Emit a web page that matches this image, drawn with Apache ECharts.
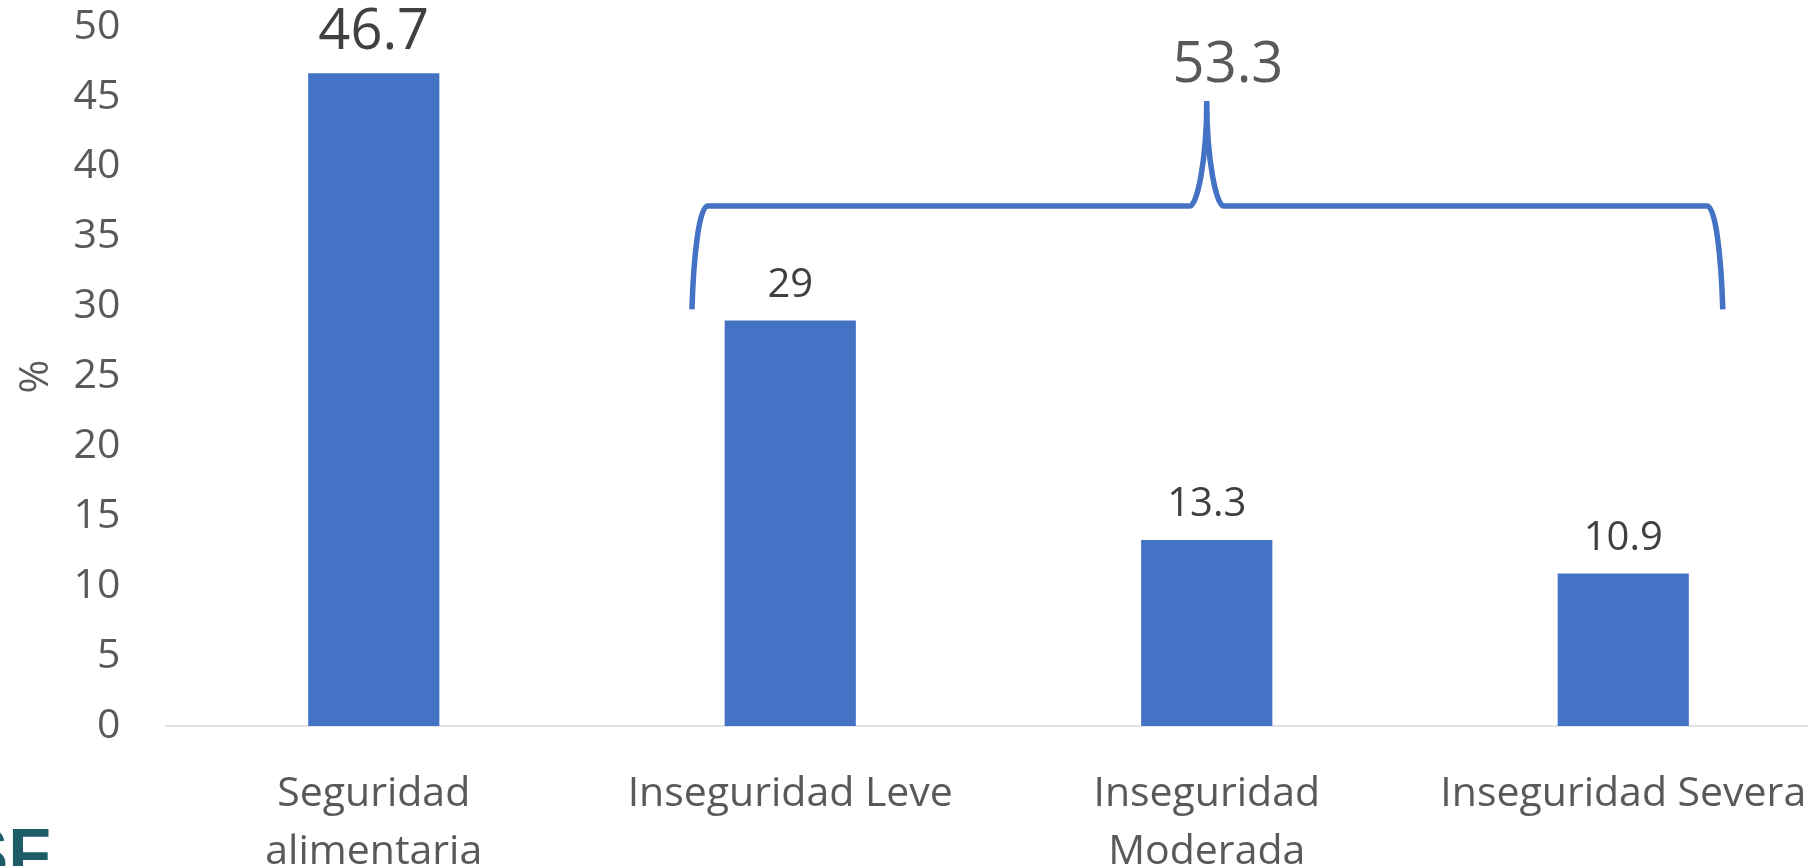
<!DOCTYPE html>
<html><head><meta charset="utf-8">
<script src="https://cdn.jsdelivr.net/npm/echarts@6/dist/echarts.min.js"></script>
<style>html,body{margin:0;padding:0;background:#fff}#c{width:1808px;height:866px}</style>
</head><body><div id="c"></div>
<script>
// ---- data ----
const categories = ['Seguridad\nalimentaria', 'Inseguridad Leve', 'Inseguridad\nModerada', 'Inseguridad Severa'];
const values = [46.7, 29, 13.3, 10.9];
const yMin = 0, yMax = 50, yInterval = 5;
const yAxisName = '%';
// bracket grouping the three "Inseguridad" bars (x in category-position units, y in %)
const bracketSpan = [0.764, 3.239];
const bracketMid = [2];
const bracketLevels = [29.8, 37.2, 44.7]; // ends, bar, tip
const bracketLabel = '53.3';
const bracketLabelPos = [2.051, 47.2];
const logoText = 'SF';

// ---- styles ----
const BLUE = '#4472C4';
const FONT = '"Open Sans", "Noto Sans", sans-serif';

const chart = echarts.init(document.getElementById('c'), null, {renderer: 'canvas'});

function renderBracket(params, api) {
  const x0 = api.value(0), x1 = api.value(1), xm = api.value(2);
  const yEnd = api.value(3), yBar = api.value(4), yTip = api.value(5);
  const unit = api.size([1, 0])[0];
  const pL = api.coord([x0, yEnd]);
  const pR = api.coord([x1, yEnd]);
  const pM = api.coord([xm, yTip]);
  const yB = api.coord([x0, yBar])[1];
  const cw = 0.0375 * unit, mw = 0.04 * unit;
  const h = yB - pM[1];
  const e = pL[1] - yB;
  const L = pL[0], R = pR[0], M = pM[0];
  const d = [
    'M', L, pL[1],
    'C', L + 0.1 * cw, yB + 0.5 * e, L + 0.45 * cw, yB, L + cw, yB,
    'L', M - mw, yB,
    'C', M - 0.6 * mw, yB, M, yB - 0.42 * h, M, pM[1],
    'C', M, yB - 0.42 * h, M + 0.6 * mw, yB, M + mw, yB,
    'L', R - cw, yB,
    'C', R - 0.45 * cw, yB, R - 0.1 * cw, yB + 0.5 * e, R, pR[1]
  ].join(' ');
  const lp = api.coord([api.value(6), api.value(7)]);
  return {
    type: 'group',
    children: [
      {type: 'path', shape: {pathData: d},
       style: {fill: 'none', stroke: BLUE, lineWidth: 5.5, lineJoin: 'bevel', lineCap: 'butt'}},
      {type: 'text',
       style: {text: bracketLabel, x: lp[0], y: lp[1], align: 'center', verticalAlign: 'middle',
               font: '56px ' + FONT, fill: '#595959'}}
    ]
  };
}

const option = {
  animation: false,
  backgroundColor: '#ffffff',
  grid: {left: 165.5, top: 27, width: 1666, height: 699, containLabel: false, outerBoundsMode: 'none'},
  xAxis: [
    {type: 'category', data: categories,
     axisLine: {lineStyle: {color: '#D9D9D9', width: 1.5}},
     axisTick: {show: false},
     axisLabel: {interval: 0, fontSize: 41, lineHeight: 58.5, color: '#595959', fontFamily: FONT, margin: 39}},
    {type: 'value', min: -0.5, max: 3.5, show: false}
  ],
  yAxis: {
    type: 'value', min: yMin, max: yMax, interval: yInterval,
    name: yAxisName, nameLocation: 'middle', nameGap: 109, nameRotate: 90,
    nameTextStyle: {fontSize: 41, color: '#595959', fontFamily: FONT},
    splitLine: {show: false}, axisLine: {show: false}, axisTick: {show: false},
    axisLabel: {fontSize: 41, color: '#595959', fontFamily: FONT, margin: 45}
  },
  series: [
    {type: 'bar', xAxisIndex: 0, barWidth: '31.5%',
     itemStyle: {color: BLUE},
     label: {show: true, position: 'top', distance: 15, fontSize: 40, color: '#404040', fontFamily: FONT},
     data: values.map((v, i) => i === 0
       ? {value: v, label: {fontSize: 56, distance: 12}}
       : v)},
    {type: 'custom', xAxisIndex: 1, yAxisIndex: 0, clip: false, silent: true,
     renderItem: renderBracket,
     encode: {x: [0, 1, 2], y: [3, 4, 5]},
     data: [[bracketSpan[0], bracketSpan[1], bracketMid[0],
             bracketLevels[0], bracketLevels[1], bracketLevels[2],
             bracketLabelPos[0], bracketLabelPos[1]]]}
  ],
  graphic: [
    {type: 'text', style: {text: logoText, x: 51, y: 824, align: 'right', verticalAlign: 'top',
      font: 'bold 70px "Liberation Sans", Arial, sans-serif', fill: '#1E5D67'}}
  ]
};
chart.setOption(option);
</script></body></html>
